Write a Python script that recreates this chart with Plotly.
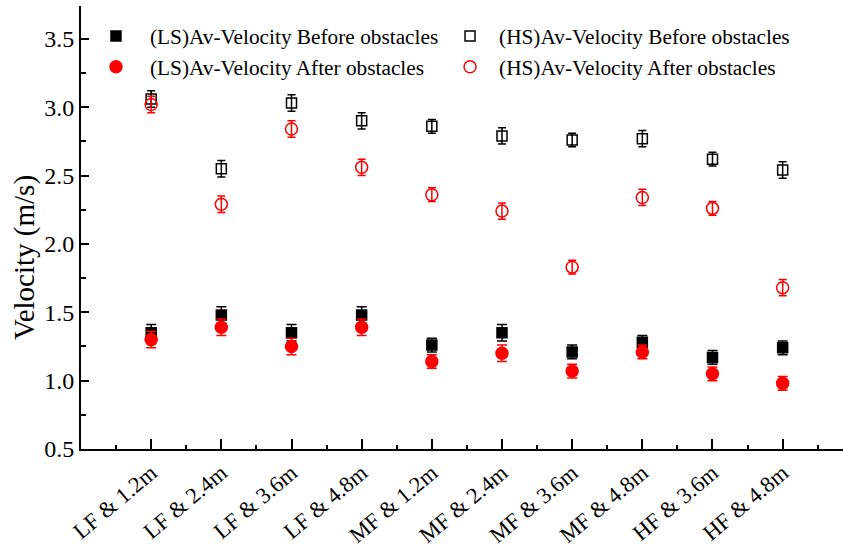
import plotly.graph_objects as go

# Test cases: flow rate & obstacle spacing
categories = ["LF & 1.2m", "LF & 2.4m", "LF & 3.6m", "LF & 4.8m",
              "MF & 1.2m", "MF & 2.4m", "MF & 3.6m", "MF & 4.8m",
              "HF & 3.6m", "HF & 4.8m"]

# Average velocities (m/s)
ls_before = [1.35, 1.48, 1.35, 1.48, 1.26, 1.35, 1.21, 1.28, 1.17, 1.24]
ls_after = [1.30, 1.39, 1.25, 1.39, 1.14, 1.20, 1.07, 1.21, 1.05, 0.98]
hs_before = [3.06, 2.55, 3.03, 2.90, 2.86, 2.79, 2.76, 2.77, 2.62, 2.54]
hs_after = [3.02, 2.29, 2.84, 2.56, 2.36, 2.24, 1.83, 2.34, 2.26, 1.68]

# Error (standard deviation, m/s)
ls_before_err = [0.06, 0.06, 0.06, 0.06, 0.05, 0.06, 0.05, 0.05, 0.05, 0.05]
ls_after_err = [0.06, 0.06, 0.06, 0.06, 0.05, 0.06, 0.05, 0.05, 0.05, 0.05]
hs_before_err = [0.06, 0.06, 0.06, 0.06, 0.05, 0.06, 0.05, 0.06, 0.05, 0.06]
hs_after_err = [0.06, 0.06, 0.06, 0.06, 0.05, 0.06, 0.05, 0.06, 0.05, 0.06]

x = list(range(len(categories)))
FONT = "Liberation Serif, Times New Roman, serif"

fig = go.Figure()

def add_series(name, values, errs, symbol, color, size, legend, cap):
    fig.add_trace(go.Scatter(
        x=x, y=values, name=name, mode="markers", legend=legend,
        marker=dict(symbol=symbol, color=color, size=size,
                    line=dict(color=color, width=1.5)),
        error_y=dict(type="data", array=errs, visible=True,
                     color=color, thickness=1.5, width=cap),
    ))

# Low-speed (LS) series in the first legend column, high-speed (HS) in the second
add_series("(LS)Av-Velocity Before obstacles", ls_before, ls_before_err,
           "square", "black", 10, "legend", 5)
add_series("(LS)Av-Velocity After obstacles", ls_after, ls_after_err,
           "circle", "red", 12, "legend", 5)
add_series("(HS)Av-Velocity Before obstacles", hs_before, hs_before_err,
           "square-open", "black", 10, "legend2", 4)
add_series("(HS)Av-Velocity After obstacles", hs_after, hs_after_err,
           "circle-open", "red", 12, "legend2", 4)

xrange = [-1, 9.86]
yrange = [0.5, 3.74]

legend_common = dict(
    orientation="v", yanchor="top", xanchor="left",
    font=dict(family=FONT, size=21.3, color="black"),
    bgcolor="rgba(0,0,0,0)", traceorder="normal", tracegroupgap=0,
)

fig.update_layout(
    width=843, height=550,
    margin=dict(l=81, r=0, t=6, b=101),
    paper_bgcolor="white", plot_bgcolor="white",
    font=dict(family=FONT, size=24, color="black"),
    showlegend=True,
    legend=dict(x=0.0013, y=0.978, itemwidth=58, **legend_common),
    legend2=dict(x=0.4725, y=0.978, itemwidth=48, **legend_common),
    xaxis=dict(
        range=xrange, tickmode="array", tickvals=x, ticktext=categories,
        tickangle=-40, ticks="inside", ticklen=10, tickwidth=2,
        tickcolor="black", showline=True, linewidth=2, linecolor="black",
        showgrid=False, zeroline=False, automargin=False,
        minor=dict(ticks="inside", ticklen=4, tickwidth=1.5,
                   tickcolor="black", dtick=1, tick0=-0.5, showgrid=False),
        tickfont=dict(family=FONT, size=22.5),
    ),
    xaxis2=dict(
        range=xrange, overlaying="x", side="top", anchor="y",
        tickmode="linear", tick0=-1, dtick=0.5, ticks="inside", ticklen=4,
        tickwidth=1.5, tickcolor="black", showticklabels=False,
        showline=True, linewidth=2, linecolor="black",
        showgrid=False, zeroline=False, automargin=False,
    ),
    yaxis=dict(
        range=yrange, tickmode="linear", tick0=0.5, dtick=0.5,
        tickformat=".1f", ticks="inside", ticklen=8, tickwidth=2,
        tickcolor="black", showline=True, linewidth=2, linecolor="black",
        showgrid=False, zeroline=False, automargin=False,
        minor=dict(ticks="inside", ticklen=5, tickwidth=1.5,
                   tickcolor="black", dtick=0.25, showgrid=False),
        tickfont=dict(family=FONT, size=24),
    ),
    annotations=[dict(
        text="Velocity (m/s)", textangle=-90, showarrow=False,
        xref="paper", yref="paper", x=-0.0748, y=0.431,
        xanchor="center", yanchor="middle",
        font=dict(family=FONT, size=29, color="black"),
    )],
)

fig.write_html("out.html")
